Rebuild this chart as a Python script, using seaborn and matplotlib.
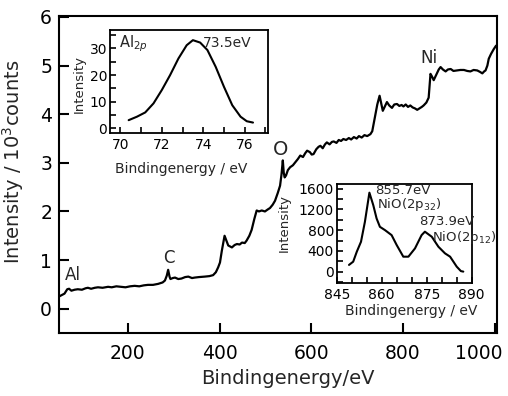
import matplotlib
matplotlib.use("Agg")
import matplotlib.pyplot as plt
import matplotlib.transforms as mtransforms
import seaborn as sns
import numpy as np
import pandas as pd
from matplotlib.ticker import MultipleLocator, FixedLocator

# ---------------- data ----------------
main_energy = [50, 54, 62, 68, 72, 77, 84, 91, 100, 108, 113, 120, 128, 135, 145, 157, 165, 175,
               186, 195, 205, 215, 225, 235, 244, 255, 266, 276, 281, 285, 288, 291, 293, 298,
               303, 310, 317, 325, 332, 340, 346, 355, 368, 378, 386, 392, 397, 401, 405, 408,
               411, 415, 419, 427, 433, 438, 444, 449, 455, 459, 465, 470, 476, 481, 486, 492,
               499, 505, 510, 516, 521, 527, 532, 535, 537, 538, 540, 542, 545, 549, 554, 560,
               565, 571, 576, 582, 587, 591, 597, 601, 605, 611, 616, 620, 625, 630, 634, 640,
               645, 649, 655, 660, 665, 670, 676, 682, 687, 693, 699, 704, 710, 716, 722, 729,
               733, 736, 740, 744, 749, 752, 756, 760, 765, 770, 776, 781, 787, 792, 797, 801,
               806, 811, 816, 821, 826, 831, 836, 841, 845, 851, 856, 858, 860, 863, 867, 871,
               875, 878, 882, 887, 893, 898, 904, 910, 918, 925, 933, 940, 947, 954, 962, 968,
               973, 977, 980, 984, 987, 992, 998, 1003]
main_counts = [0.25, 0.27, 0.31, 0.40, 0.41, 0.37, 0.39, 0.40, 0.39, 0.42, 0.43, 0.41, 0.43, 0.44,
               0.43, 0.45, 0.44, 0.46, 0.45, 0.44, 0.46, 0.47, 0.46, 0.48, 0.49, 0.49, 0.51, 0.54,
               0.58, 0.68, 0.80, 0.66, 0.61, 0.63, 0.64, 0.61, 0.62, 0.65, 0.66, 0.63, 0.64, 0.65,
               0.66, 0.67, 0.69, 0.75, 0.85, 0.95, 1.19, 1.35, 1.50, 1.40, 1.30, 1.26, 1.31, 1.33,
               1.32, 1.36, 1.35, 1.40, 1.50, 1.62, 1.85, 2.02, 2.00, 2.02, 2.00, 2.04, 2.07, 2.14,
               2.22, 2.38, 2.53, 2.75, 2.95, 3.05, 2.80, 2.70, 2.74, 2.85, 2.91, 2.95, 3.01, 3.08,
               3.15, 3.12, 3.20, 3.25, 3.22, 3.17, 3.18, 3.28, 3.33, 3.35, 3.30, 3.38, 3.42, 3.38,
               3.43, 3.44, 3.41, 3.47, 3.45, 3.49, 3.47, 3.51, 3.48, 3.53, 3.50, 3.55, 3.52, 3.57,
               3.55, 3.59, 3.65, 3.80, 4.01, 4.20, 4.38, 4.25, 4.07, 4.15, 4.25, 4.18, 4.13, 4.20,
               4.21, 4.17, 4.19, 4.16, 4.20, 4.15, 4.18, 4.14, 4.12, 4.09, 4.12, 4.15, 4.18, 4.24,
               4.34, 4.60, 4.83, 4.78, 4.70, 4.78, 4.86, 4.92, 4.97, 4.92, 4.88, 4.92, 4.93, 4.89,
               4.90, 4.91, 4.91, 4.89, 4.88, 4.91, 4.90, 4.87, 4.84, 4.88, 4.90, 5.00, 5.14, 5.24,
               5.34, 5.41]

al_energy = [70.4, 70.8, 71.2, 71.6, 72.0, 72.4, 72.8, 73.2, 73.5, 73.85, 74.2, 74.6, 75.0,
             75.4, 75.8, 76.1, 76.4]
al_intensity = [3.1, 4.4, 6.0, 9.4, 14.4, 20.0, 26.2, 31.2, 33.1, 32.2, 29.4, 23.1, 15.6,
                8.7, 4.4, 2.7, 2.2]

ni_energy = [849.1, 850.5, 851.7, 853.1, 854.4, 855.9, 857.2, 858.3, 859.4, 861.1, 863.3, 865.0,
             867.2, 868.9, 871.1, 873.3, 874.4, 876.7, 878.9, 881.1, 882.8, 885.0, 886.4, 887.2]
ni_intensity = [129, 192, 384, 576, 960, 1523, 1280, 1025, 864, 800, 704, 512, 288, 288, 448,
                704, 770, 672, 480, 352, 288, 96, 10, 0]

main_xticks = [200, 400, 600, 800, 1000]
main_yticks = [0, 1, 2, 3, 4, 5, 6]
al_xticks = [70, 72, 74, 76]
al_yticks = [0, 10, 20, 30]
ni_xticks = [845, 860, 875, 890]
ni_yticks = [0, 400, 800, 1200, 1600]

# ---------------- style ----------------
sns.set_theme(style="ticks")
plt.rcParams['font.family'] = ['DejaVu Sans']
plt.rcParams['axes.linewidth'] = 1.5

fig = plt.figure(figsize=(5.08, 3.96), dpi=100)
W, H = 508.0, 396.0

def box(l, t, r, b):
    return [l / W, (H - b) / H, (r - l) / W, (b - t) / H]

ax = fig.add_axes(box(59, 16, 497, 333))
df_main = pd.DataFrame({"e": main_energy, "c": main_counts})
sns.lineplot(data=df_main, x="e", y="c", ax=ax, color="black", lw=1.6, estimator=None, sort=False)
ax.set_xlim(50, 1005)
ax.set_ylim(-0.5, 6.02)
ax.xaxis.set_major_locator(FixedLocator(main_xticks))
ax.yaxis.set_major_locator(FixedLocator(main_yticks))
ax.tick_params(direction="in", length=7, width=1.5, labelsize=13.5, colors="black")
ax.tick_params(axis="x", pad=8)
ax.tick_params(axis="y", pad=5)
for s in ax.spines.values():
    s.set_linewidth(1.5)
    s.set_color("black")
ax.set_xlabel("Bindingenergy/eV", fontsize=14)
ax.set_ylabel("Intensity / 10$^3$counts", fontsize=14)
ax.xaxis.set_label_coords(0.523, -0.115)
ax.yaxis.set_label_coords(-0.075, 0.54)
# the last x tick label sits a little left of its tick in the reference
last_tick = ax.xaxis.get_major_ticks()[-1]
last_tick.label1.set_transform(last_tick.label1.get_transform() +
                               mtransforms.ScaledTranslation(-16 / 100, 0, fig.dpi_scale_trans))
ax.text(80, 0.70, "Al", fontsize=12, ha="center", va="center")
ax.text(290, 1.05, "C", fontsize=12, ha="center", va="center")
ax.text(533, 3.27, "O", fontsize=14, ha="center", va="center")
ax.text(857, 5.15, "Ni", fontsize=12, ha="center", va="center")

# ---- inset 1 : Al 2p ----
ax1 = fig.add_axes(box(110, 29.5, 267.5, 132.7))
df_al = pd.DataFrame({"e": al_energy, "i": al_intensity})
sns.lineplot(data=df_al, x="e", y="i", ax=ax1, color="black", lw=1.5, estimator=None, sort=False)
ax1.set_xlim(69.5, 77.1)
ax1.set_ylim(-1.6, 37.1)
ax1.xaxis.set_major_locator(FixedLocator(al_xticks))
ax1.xaxis.set_minor_locator(MultipleLocator(1))
ax1.yaxis.set_major_locator(FixedLocator(al_yticks))
ax1.yaxis.set_minor_locator(MultipleLocator(5))
ax1.tick_params(which="both", direction="in", length=4, width=1.2, labelsize=10, colors="black")
ax1.tick_params(axis="x", pad=4)
ax1.tick_params(axis="y", pad=2)
for s in ax1.spines.values():
    s.set_linewidth(1.3)
    s.set_color("black")
ax1.set_xlabel("Bindingenergy / eV", fontsize=10)
ax1.set_ylabel("Intensity", fontsize=9.5)
ax1.xaxis.set_label_coords(0.45, -0.28)
ax1.yaxis.set_label_coords(-0.155, 0.47)
ax1.text(0.06, 0.96, "Al$_{2p}$", transform=ax1.transAxes, fontsize=10.5, ha="left", va="top")
ax1.text(74.0, 32.0, "73.5eV", fontsize=10, ha="left", va="center")

# ---- inset 2 : Ni 2p ----
ax2 = fig.add_axes(box(336.7, 184, 471.7, 282.5))
df_ni = pd.DataFrame({"e": ni_energy, "i": ni_intensity})
sns.lineplot(data=df_ni, x="e", y="i", ax=ax2, color="black", lw=1.5, estimator=None, sort=False)
ax2.set_xlim(845, 890)
ax2.set_ylim(-210, 1690)
ax2.xaxis.set_major_locator(FixedLocator(ni_xticks))
ax2.xaxis.set_minor_locator(MultipleLocator(5))
ax2.yaxis.set_major_locator(FixedLocator(ni_yticks))
ax2.yaxis.set_minor_locator(MultipleLocator(200))
ax2.tick_params(which="both", direction="in", length=4, width=1.2, labelsize=10, colors="black")
ax2.tick_params(axis="x", pad=4)
ax2.tick_params(axis="y", pad=2)
for s in ax2.spines.values():
    s.set_linewidth(1.3)
    s.set_color("black")
ax2.set_xlabel("Bindingenergy / eV", fontsize=10)
ax2.set_ylabel("Intensity", fontsize=9.5)
ax2.xaxis.set_label_coords(0.55, -0.22)
ax2.yaxis.set_label_coords(-0.34, 0.6)
ax2.text(857.8, 1570, "855.7eV", fontsize=9.5, ha="left", va="center")
ax2.text(858.6, 1290, "NiO(2p$_{32}$)", fontsize=9.5, ha="left", va="center")
ax2.text(872.6, 960, "873.9eV", fontsize=9.5, ha="left", va="center")
ax2.text(876.8, 650, "NiO(2p$_{12}$)", fontsize=9.5, ha="left", va="center", clip_on=False)

fig.savefig("out.png", dpi=100)
